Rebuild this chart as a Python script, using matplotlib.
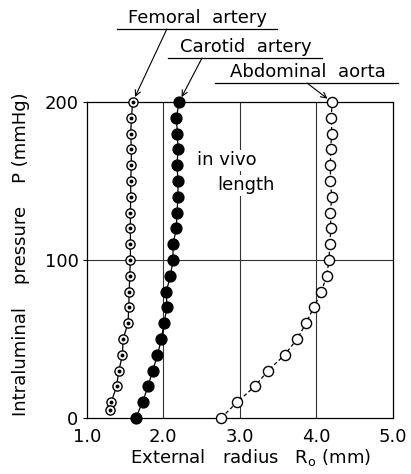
import matplotlib
matplotlib.use("Agg")
import matplotlib.pyplot as plt
from matplotlib.lines import Line2D

# ---- data ----
fem_P = [200, 190, 180, 170, 160, 150, 140, 130, 120, 110, 100, 90, 80, 70, 60, 50, 40, 30, 20, 10, 5]
fem_R = [1.60, 1.585, 1.575, 1.583, 1.583, 1.575, 1.575, 1.571, 1.571, 1.571, 1.571, 1.562, 1.555,
         1.549, 1.54, 1.475, 1.467, 1.42, 1.39, 1.32, 1.30]

car_P = [200, 190, 180, 170, 160, 150, 140, 130, 120, 110, 100, 90, 80, 70, 60, 50, 40, 30, 20, 10, 0]
car_R = [2.207, 2.172, 2.185, 2.193, 2.18, 2.193, 2.193, 2.18, 2.172, 2.128, 2.128, 2.094, 2.04,
         2.05, 2.01, 1.976, 1.925, 1.863, 1.80, 1.73, 1.64]

abd_P = [200, 190, 180, 170, 160, 150, 140, 130, 120, 110, 100, 90, 80, 70, 60, 50, 40, 30, 20, 10, 0]
abd_R = [4.205, 4.199, 4.203, 4.187, 4.186, 4.186, 4.203, 4.186, 4.192, 4.176, 4.167, 4.137, 4.068,
         3.967, 3.867, 3.749, 3.588, 3.37, 3.196, 2.965, 2.755]

x_ticks = [1.0, 2.0, 3.0, 4.0, 5.0]
x_ticklabels = ["1.0", "2.0", "3.0", "4.0", "5.0"]
y_ticks = [0, 100, 200]
y_ticklabels = ["0", "100", "200"]

labels = ["Femoral  artery", "Carotid  artery", "Abdominal  aorta"]

plt.rcParams['font.family'] = ['DejaVu Sans']

fig = plt.figure(figsize=(4.11, 4.74), dpi=100)
ax = fig.add_axes([0.211, 0.118, 0.7445, 0.6667])

# grid
for gx in [2.0, 3.0, 4.0]:
    ax.axvline(gx, color='#333333', lw=0.8, zorder=0)
ax.axhline(100, color='#333333', lw=0.8, zorder=0)

# femoral
ax.plot(fem_R, fem_P, '-', color='black', lw=0.9, zorder=2, clip_on=False)
ax.plot(fem_R, fem_P, 'o', ms=6.6, mfc='white', mec='black', mew=1.0, zorder=3, clip_on=False)
ax.plot(fem_R, fem_P, 'o', ms=2.8, mfc='black', mec='black', mew=0, zorder=4, clip_on=False)

# carotid
ax.plot(car_R, car_P, '-', color='black', lw=0.9, zorder=2, clip_on=False)
ax.plot(car_R, car_P, 'o', ms=7.8, mfc='black', mec='black', zorder=3, clip_on=False)

# abdominal
ax.plot(abd_R, abd_P, '--', color='black', lw=0.9, dashes=(3, 2), zorder=2, clip_on=False)
ax.plot(abd_R, abd_P, 'o', ms=7.3, mfc='white', mec='black', mew=1.0, zorder=3, clip_on=False)

ax.set_xlim(1.0, 5.0)
ax.set_ylim(0, 200)
ax.set_xticks(x_ticks)
ax.set_xticklabels(x_ticklabels)
ax.set_yticks(y_ticks)
ax.set_yticklabels(y_ticklabels)
ax.tick_params(axis='both', direction='out', length=3, width=0.8, labelsize=13, pad=3)
ax.tick_params(axis='x', length=0, pad=7)
for s in ax.spines.values():
    s.set_linewidth(0.9)

ax.set_xlabel(r"External   radius   $\mathregular{R_o}$ (mm)", fontsize=13)
ax.xaxis.set_label_coords(0.537, -0.09)
ax.set_ylabel("Intraluminal    pressure    P (mmHg)", fontsize=13)
ax.yaxis.set_label_coords(-0.185, 0.52)

# in vivo length
ax.text(0.36, 0.816, "in vivo", transform=ax.transAxes, fontsize=13, va='center', ha='left',
        bbox=dict(facecolor='white', edgecolor='none', pad=1), zorder=5)
ax.text(0.426, 0.737, "length", transform=ax.transAxes, fontsize=13, va='center', ha='left',
        bbox=dict(facecolor='white', edgecolor='none', pad=1), zorder=5)

# labels with underline and arrows
lab_specs = [
    (labels[0], 0.4805, 0.962, 0.2847, 0.674, 0.9388, 0.406, fem_R[0]),
    (labels[1], 0.5985, 0.9008, 0.4088, 0.7835, 0.8776, 0.4915, car_R[0]),
    (labels[2], 0.748, 0.848, 0.523, 0.968, 0.8249, 0.747, abd_R[0]),
]
for text, tx, ty, ux0, ux1, uy, axs, target_R in lab_specs:
    fig.text(tx, ty, text, fontsize=13, ha='center', va='center')
    fig.add_artist(Line2D([ux0, ux1], [uy, uy], transform=fig.transFigure, color='black', lw=0.9))
    ax.annotate("", xy=(target_R, 200), xycoords='data', xytext=(axs, uy),
                textcoords='figure fraction',
                arrowprops=dict(arrowstyle='->', lw=0.8, color='black', shrinkA=0, shrinkB=4,
                                mutation_scale=10))

fig.savefig("out.png", dpi=100)
